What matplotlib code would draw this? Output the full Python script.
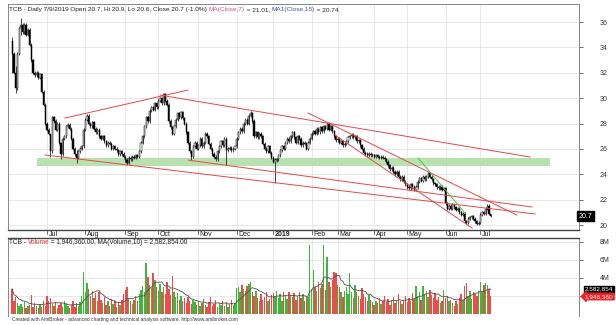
import numpy as np
import pandas as pd
import matplotlib
matplotlib.use("Agg")
import matplotlib.pyplot as plt
import matplotlib.transforms as mtransforms

plt.rcParams['font.family'] = ['Liberation Sans', 'DejaVu Sans']

# trading days (HOSE), TCB listed 4 Jun 2018
holidays = ['2018-09-03', '2019-01-01', '2019-02-04', '2019-02-05', '2019-02-06',
            '2019-02-07', '2019-02-08', '2019-04-15', '2019-04-29', '2019-04-30',
            '2019-05-01']
days = pd.bdate_range('2018-06-04', '2019-07-09')
days = days[~days.isin(pd.to_datetime(holidays))]

closes = [
    33.5, 32.0, 30.8, 33.5, 35.5, 35.8, 35.2, 35.8, 35.0, 35.4,
    34.2, 33.0, 32.0, 31.8, 32.0, 31.6, 31.9, 30.5, 29.5, 28.0,
    27.5, 27.2, 25.8, 28.5, 28.2, 27.5, 28.0, 26.5, 25.6, 26.8,
    27.0, 27.8, 27.9, 27.6, 26.8, 26.0, 25.6, 25.3, 25.8, 26.0,
    26.2, 27.5, 28.3, 28.6, 28.0, 27.8, 28.1, 27.6, 27.3, 27.5,
    27.0, 26.8, 27.0, 26.6, 26.3, 26.5, 26.4, 26.0, 26.2, 26.0,
    25.9, 25.6, 25.8, 25.6, 25.4, 25.1, 24.9, 25.3, 25.2, 25.4,
    25.3, 25.5, 25.4, 25.8, 26.5, 27.0, 27.8, 28.5, 28.2, 29.0,
    29.3, 29.1, 29.6, 29.3, 29.8, 30.0, 29.6, 30.3, 29.8, 29.5,
    28.2, 27.7, 27.2, 27.8, 28.3, 28.8, 28.5, 28.9, 28.4, 28.0,
    27.3, 26.5, 25.8, 25.4, 26.2, 26.5, 26.0, 26.3, 26.8, 26.2,
    26.5, 27.2, 27.0, 26.4, 26.0, 25.6, 25.4, 25.2, 25.8, 26.2,
    26.6, 26.3, 26.8, 25.9, 26.0, 26.1, 25.9, 26.0, 26.2, 26.8,
    27.3, 27.6, 27.4, 28.0, 28.3, 28.0, 28.6, 28.8, 28.2, 27.0,
    27.3, 26.9, 27.2, 27.0, 26.4, 26.0, 25.8, 26.2, 25.7, 25.3,
    25.0, 25.1, 25.2, 25.5, 25.9, 26.2, 26.0, 26.5, 26.8, 26.6,
    27.0, 27.3, 26.9, 26.5, 27.0, 26.8, 26.3, 26.5, 26.4, 26.0,
    26.5, 26.8, 27.2, 27.4, 27.2, 27.6, 27.3, 27.7, 27.4, 27.8,
    27.6, 28.0, 27.5, 27.8, 27.4, 27.0, 26.7, 26.8, 26.5, 26.6,
    26.3, 26.4, 26.6, 26.9, 27.0, 27.1, 26.9, 27.0, 26.6, 26.7,
    26.3, 26.0, 25.7, 25.6, 25.5, 25.6, 25.5, 25.5, 25.4, 25.5,
    25.4, 25.3, 25.4, 25.3, 25.2, 25.0, 24.7, 24.4, 24.5, 24.2,
    24.0, 24.2, 23.8, 23.6, 23.8, 23.4, 23.2, 23.0, 22.9, 23.2,
    23.0, 22.8, 23.0, 23.4, 23.7, 23.5, 23.8, 23.6, 23.8, 24.1,
    23.8, 23.6, 23.3, 23.2, 23.0, 22.9, 23.0, 22.8, 22.9, 21.7,
    21.3, 21.5, 21.3, 21.6, 21.4, 21.2, 21.3, 21.0, 20.8, 20.9,
    20.3, 20.2, 20.5, 20.6, 20.7, 20.5, 20.3, 20.1, 20.2, 20.8,
    21.0, 20.9, 21.3, 21.5, 20.9, 20.7,
]
first_open = 34.5
# bars with long shadows: index -> (high, low)
shadows = {0: (34.8, 32.0), 2: (32.5, 30.4), 5: (36.3, 35.0), 22: (26.8, 25.4),
           28: (26.5, 25.2), 37: (25.9, 24.9), 66: (25.3, 24.7), 87: (30.4, 29.5),
           103: (25.9, 25.1), 123: (26.9, 24.7), 137: (29.0, 28.5), 151: (25.3, 23.3),
           181: (28.1, 27.5), 275: (20.9, 20.6)}

volume = [  # millions
    2.8, 1.5, 1.9, 1.2, 0.9, 1.1, 0.8, 1.3, 0.7, 0.9, 1.0, 2.1, 0.8, 1.2, 0.9, 0.7, 1.1, 0.8, 1.4, 0.9,
    2.0, 1.5, 1.8, 1.1, 0.9, 1.3, 0.7, 1.0, 1.2, 0.8, 1.5, 1.1, 0.9, 0.7, 1.0, 1.4, 0.8, 1.2, 0.9, 1.3, 2.0, 4.7,
    2.5, 3.4, 2.8, 2.0, 2.6, 1.8, 2.3, 1.5, 2.4, 1.6, 1.2, 1.9, 1.0, 1.4, 0.9, 1.7, 1.1, 1.5, 0.8, 1.3, 1.0, 1.6, 2.2,
    2.7, 3.0, 1.8, 1.4, 1.1, 1.6, 2.0, 1.5, 2.2, 2.7, 3.1, 2.4, 5.7, 4.1, 3.2, 2.9, 4.5, 3.8, 3.0,
    2.6, 3.3, 2.4, 3.0, 2.2, 3.5, 2.8, 2.1, 4.2, 2.5, 1.9, 2.3, 1.6, 2.0, 1.4, 1.8, 1.2, 1.9, 1.5, 1.1, 1.6, 1.3, 1.0,
    1.4, 0.9, 1.2, 1.7, 1.0, 0.8, 1.3, 1.9, 0.9, 1.1, 1.6, 0.8, 1.2, 1.0, 1.5, 0.9, 1.3, 0.8, 1.1, 1.6, 1.0, 1.2,
    2.9, 3.0, 2.5, 3.2, 2.8, 2.6, 3.1, 3.3, 3.5, 2.4, 2.0, 2.6, 1.8, 1.5, 2.2, 1.6, 1.9, 2.4, 1.4, 1.7, 2.1,
    2.3, 2.0, 2.6, 1.8, 2.2, 1.5, 2.5, 2.0, 1.7, 2.4, 2.1, 1.9, 2.3, 1.6, 2.0, 2.4, 1.8, 2.2, 1.5, 2.0, 1.9, 7.7,
    2.8, 4.9, 3.0, 2.6, 3.6, 2.9, 3.3, 7.7, 2.7, 6.3, 3.5, 3.0, 3.8, 4.7, 4.6,
    3.2, 3.0, 2.4, 1.9, 2.6, 3.0, 2.2, 4.5, 2.4, 1.8, 3.2, 2.5, 2.0, 1.7, 2.9, 2.2, 1.9, 1.5, 2.1, 1.6, 1.3,
    1.0, 1.4, 1.2, 1.8, 1.1, 1.5, 2.0, 1.3, 1.7, 1.0, 1.6, 1.9, 1.2, 1.4, 2.2, 1.5, 1.1, 1.6, 2.0, 1.3,
    1.8, 1.5, 2.3, 1.7, 3.1, 2.0, 2.4, 1.6, 3.1, 2.2, 2.6, 1.9, 2.7, 2.1, 1.8, 2.3, 1.6, 1.9, 1.2, 1.5, 2.7,
    1.8, 2.0, 1.4, 1.6, 1.2, 0.9, 1.5, 1.1, 1.8, 2.2, 1.6, 3.1, 3.4, 2.0, 2.6, 1.7, 2.4, 2.2, 2.0, 2.6,
    3.6, 2.5, 3.2, 3.4, 3.2, 2.8, 1.946,
]

# trend lines drawn by hand: (bar, price) -> (bar, price)
red_lines = [((30.3, 28.43), (101.0, 30.64)),
             ((85.0, 30.24), (297.6, 25.36)),
             ((170.0, 28.83), (290.0, 20.79)),
             ((185.5, 27.09), (264.3, 19.76)),
             ((101.1, 25.12), (298.7, 21.42)),
             ((18.9, 25.52), (300.5, 20.87))]
green_line = ((233.2, 25.28), (260.2, 20.95))
support_zone = (14.3, 309.0, 24.65, 25.25)

n = len(days)
closes = np.array(closes[:n])
volume = np.array(volume[:n])
opens = np.concatenate([[first_open], closes[:-1]])
highs = np.maximum(opens, closes) + 0.12
lows = np.minimum(opens, closes) - 0.12
for k, (h, l) in shadows.items():
    highs[k], lows[k] = h, l
x = np.arange(n)
up = closes >= opens
vol_ma = pd.Series(volume).rolling(10, min_periods=1).mean()

W, H = 616, 325
fig = plt.figure(figsize=(W / 100, H / 100), dpi=100)
ax = fig.add_axes([8 / W, 1 - 230 / H, 571 / W, 226 / H])
axv = fig.add_axes([8 / W, 1 - 316 / H, 571 / W, 78 / H])

xlim = (-2.4, 325.7)
grid_c = '#e4e4e4'
month_idx = []
month_lab = []
for i in range(1, n):
    if days[i].month != days[i - 1].month:
        month_idx.append(i)
        month_lab.append('2019' if days[i].month == 1 else days[i].strftime('%b'))

# price pane
ax.set_xlim(*xlim)
ax.set_ylim(19.61, 37.42)
for m in month_idx:
    ax.axvline(m, color=grid_c, lw=0.6, zorder=0)
for v in range(20, 38, 2):
    ax.axhline(v, color=grid_c, lw=0.6, zorder=0)
z0, z1, p0, p1 = support_zone
ax.fill_between([z0, z1], p0, p1, color='#b7e2b0', lw=0, zorder=1)
ax.vlines(x, lows, highs, color='black', lw=0.5, zorder=3)
ax.bar(x[up], np.maximum(closes[up] - opens[up], 0.06), bottom=opens[up], width=0.7,
       color='white', edgecolor='black', lw=0.35, zorder=4)
ax.bar(x[~up], opens[~up] - closes[~up], bottom=closes[~up], width=0.7,
       color='black', edgecolor='black', lw=0.35, zorder=4)
for (a, b) in red_lines:
    ax.plot([a[0], b[0]], [a[1], b[1]], color='#e8484a', lw=0.7, zorder=5)
ax.plot([green_line[0][0], green_line[1][0]], [green_line[0][1], green_line[1][1]],
        color='#4cbf4c', lw=0.7, zorder=5)

ax.yaxis.tick_right()
ax.set_yticks(range(20, 38, 2))
ax.tick_params(axis='y', direction='out', length=3, width=0.6, pad=12, labelsize=5,
               color='#555555', labelcolor='#333333')
ax.tick_params(axis='x', bottom=False, labelbottom=False)
for s in ax.spines.values():
    s.set_color('#888888')
    s.set_linewidth(0.7)
ax.spines['bottom'].set_color('#444444')
ax.spines['bottom'].set_linewidth(1.0)

# date strip
trans = mtransforms.blended_transform_factory(ax.transData, ax.transAxes)
for m, lab in zip(month_idx, month_lab):
    ax.plot([m, m], [-0.004, -0.016], color='#333333', lw=0.5, transform=trans, clip_on=False)
    ax.text(m + 0.8, -0.006, lab, transform=trans, fontsize=5, va='top', ha='left',
            color='#222222', fontweight='bold' if lab == '2019' else 'normal')
ax.text(1.0, 20.7, '20.7', transform=mtransforms.blended_transform_factory(ax.transAxes, ax.transData),
        fontsize=5, color='white', va='center', ha='left',
        bbox=dict(boxstyle='square,pad=0.25', fc='black', ec='black'), zorder=10, clip_on=False)

# volume pane
axv.set_xlim(*xlim)
axv.set_ylim(-0.22, 8.44)
for m in month_idx:
    axv.axvline(m, color=grid_c, lw=0.6, zorder=0)
for v in (2, 4, 6, 8):
    axv.axhline(v, color=grid_c, lw=0.6, zorder=0)
axv.bar(x[up], volume[up], width=0.8, color='#3db83d', lw=0, zorder=2)
axv.bar(x[~up], volume[~up], width=0.8, color='#f04a4a', lw=0, zorder=2)
axv.plot(x, vol_ma, color='#505050', lw=0.6, zorder=3)
axv.yaxis.tick_right()
axv.set_yticks([2, 4, 6, 8])
axv.set_yticklabels(['', '4M', '6M', '8M'])
axv.tick_params(axis='y', direction='out', length=3, width=0.6, pad=12, labelsize=5,
                color='#555555', labelcolor='#333333')
axv.tick_params(axis='x', bottom=False, labelbottom=False)
for s in axv.spines.values():
    s.set_color('#888888')
    s.set_linewidth(0.7)
axv.spines['top'].set_color('#444444')
axv.spines['top'].set_linewidth(1.0)
axv.spines['bottom'].set_visible(False)
vt = mtransforms.blended_transform_factory(axv.transAxes, axv.transData)
axv.text(1.01, 2.75, '2,582,854', transform=vt, fontsize=4.6, color='white', va='center', ha='left',
         bbox=dict(boxstyle='square,pad=0.12', fc='black', ec='black'), zorder=10, clip_on=False)
axv.text(1.01, 1.946, '1,946,360', transform=vt, fontsize=4.6, color='white', va='center', ha='left',
         bbox=dict(boxstyle='larrow,pad=0.12', fc='#ee2222', ec='#ee2222'), zorder=10, clip_on=False)

# header lines
renderer = fig.canvas.get_renderer()


def header(px, py, parts, size):
    xx = px / W
    for txt, col in parts:
        t = fig.text(xx, 1 - py / H, txt, color=col, fontsize=size, va='center', ha='left')
        xx += t.get_window_extent(renderer=renderer).width / W


header(9, 10, [('TCB - Daily 7/9/2019 Open 20.7, Hi 20.9, Lo 20.6, Close 20.7 (-1.0%) ', '#222222'),
               ('MA(Close,7)', '#e0508a'), (' = 21.01, ', '#222222'),
               ('MA1(Close,15)', '#3a52c4'), (' = 20.74', '#222222')], 4.65)
header(9, 243, [('TCB - ', '#222222'), ('Volume', '#ee3030'),
                (' = 1,946,360.00, MA(Volume,10) = 2,582,854.00', '#222222')], 4.7)
fig.text(12 / W, 1 - 320 / H,
         'Created with AmiBroker - advanced charting and technical analysis software. http://www.amibroker.com',
         fontsize=3.5, color='#333333', va='center', ha='left')

fig.savefig('out.png', dpi=100, facecolor='white')
